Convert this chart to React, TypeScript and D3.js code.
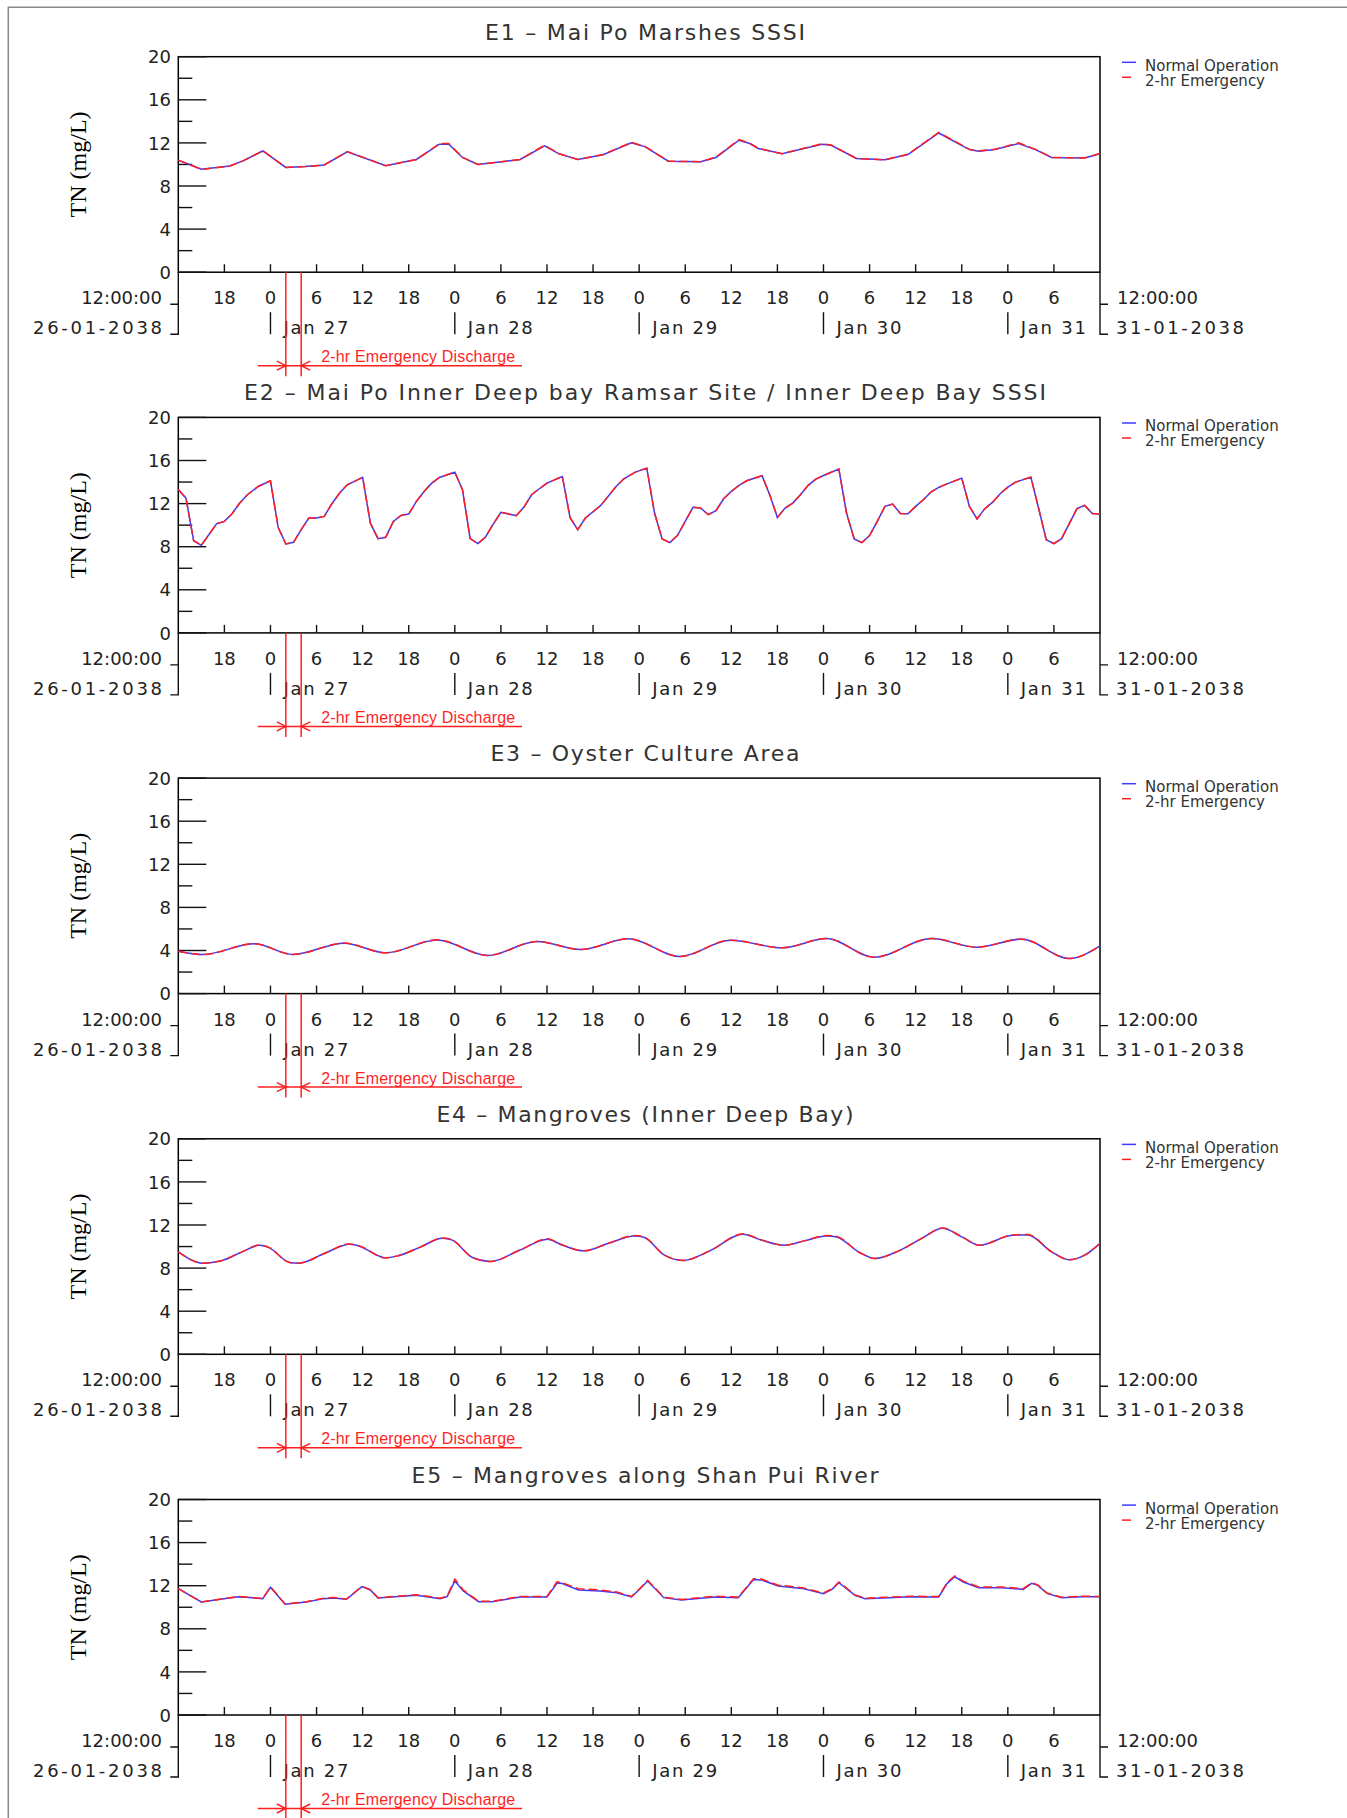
import React from 'react';
import * as d3 from 'd3';

// time axis: hours after 12:00:00 26-01-2038
const SPAN_HOURS = 120;
const EMERGENCY_START = 14; // Jan 27 02:00
const EMERGENCY_END = 16; // Jan 27 04:00

const TITLES = [
  'E1 – Mai Po Marshes SSSI',
  'E2 – Mai Po Inner Deep bay Ramsar Site / Inner Deep Bay SSSI',
  'E3 – Oyster Culture Area',
  'E4 – Mangroves (Inner Deep Bay)',
  'E5 – Mangroves along Shan Pui River',
];
const TITLE_WIDTHS = [320, 802, 309, 417, 467];

const Y_MAJOR = [0, 4, 8, 12, 16, 20];
const Y_MINOR = [2, 6, 10, 14, 18];
const X_TICK_HOURS = [6, 12, 18, 24, 30, 36, 42, 48, 54, 60, 66, 72, 78, 84, 90, 96, 102, 108, 114];
const X_TICK_LABELS = ['18', '0', '6', '12', '18', '0', '6', '12', '18', '0', '6', '12', '18', '0', '6', '12', '18', '0', '6'];
const DAY_HOURS = [12, 36, 60, 84, 108];
const DAY_LABELS = ['Jan 27', 'Jan 28', 'Jan 29', 'Jan 30', 'Jan 31'];
const LEGEND = ['Normal Operation', '2-hr Emergency'];

const E1_HOURS = [0, 3, 6.7, 8.5, 11, 14, 16.5, 19, 22, 27, 31, 34, 35.2, 37, 39, 44.5, 47.7, 49.5, 52, 55.3, 59, 60.8, 63.8, 68, 70, 73, 74.4, 75.5, 78.6, 83.8, 85, 88.3, 92, 95, 99, 103, 104.2, 106.3, 109.4, 111.6, 113.7, 118, 120];
const E1_NORMAL = [10.4, 9.55, 9.85, 10.35, 11.25, 9.72, 9.8, 9.95, 11.17, 9.88, 10.46, 11.88, 11.88, 10.65, 10.0, 10.46, 11.72, 11.0, 10.46, 10.9, 12.0, 11.63, 10.3, 10.25, 10.65, 12.25, 11.94, 11.48, 11.0, 11.88, 11.78, 10.55, 10.43, 10.92, 12.92, 11.38, 11.23, 11.38, 11.94, 11.38, 10.65, 10.6, 11.0];
const E1_EMERGENCY = [10.4, 9.55, 9.85, 10.35, 11.27, 9.72, 9.8, 9.95, 11.2, 9.88, 10.46, 11.93, 11.95, 10.65, 10.0, 10.46, 11.78, 11.02, 10.46, 10.92, 12.05, 11.65, 10.3, 10.25, 10.68, 12.3, 11.97, 11.5, 11.0, 11.92, 11.8, 10.55, 10.43, 10.95, 12.97, 11.4, 11.25, 11.4, 12.0, 11.4, 10.65, 10.6, 11.02];

const E2_HOURS = [0, 1, 2, 3, 5, 6, 7, 8, 9, 10.4, 12, 13, 14, 15, 16, 17, 18, 19, 20, 21, 22, 24, 25, 26, 27, 28, 29, 30, 31, 32, 33, 34, 36, 37, 38, 39, 40, 41, 42, 44, 45, 46, 47, 48, 50, 51, 52, 53, 55, 57, 58, 59.5, 61, 62, 63, 64, 65, 66, 67, 68, 69, 70, 71, 72, 73, 74, 76, 77, 78, 79, 80, 81, 82, 83, 84, 86, 87, 88, 89, 90, 91, 92, 93, 94, 95, 96, 97, 98, 99, 100, 102, 103, 104, 105, 106, 107, 108, 109, 111, 112, 113, 114, 115, 116, 117, 118, 119, 120];
const E2_NORMAL = [13.3, 12.5, 8.56, 8.13, 10.14, 10.35, 11.06, 12.05, 12.82, 13.59, 14.12, 9.8, 8.25, 8.41, 9.58, 10.66, 10.66, 10.81, 11.99, 12.98, 13.75, 14.43, 10.2, 8.75, 8.87, 10.35, 10.91, 11.03, 12.2, 13.13, 13.9, 14.43, 14.92, 13.28, 8.75, 8.28, 8.9, 10.1, 11.19, 10.88, 11.68, 12.82, 13.38, 13.9, 14.52, 10.72, 9.58, 10.66, 11.83, 13.59, 14.3, 14.92, 15.29, 11.12, 8.72, 8.38, 9.06, 10.35, 11.65, 11.59, 10.97, 11.34, 12.45, 13.13, 13.69, 14.12, 14.58, 12.82, 10.72, 11.59, 12.05, 12.82, 13.69, 14.27, 14.61, 15.2, 11.12, 8.72, 8.38, 9.03, 10.35, 11.74, 11.96, 11.09, 11.06, 11.74, 12.36, 13.07, 13.5, 13.81, 14.36, 11.74, 10.57, 11.53, 12.11, 12.91, 13.53, 13.99, 14.46, 11.59, 8.65, 8.28, 8.75, 10.14, 11.53, 11.83, 11.09, 11.03];
const E2_EMERGENCY = [13.3, 12.5, 8.56, 8.13, 10.14, 10.35, 11.06, 12.05, 12.82, 13.59, 14.12, 9.8, 8.25, 8.41, 9.58, 10.66, 10.66, 10.81, 11.99, 12.98, 13.75, 14.43, 10.2, 8.75, 8.87, 10.35, 10.91, 11.03, 12.2, 13.13, 13.9, 14.43, 14.92, 13.28, 8.75, 8.28, 8.9, 10.1, 11.19, 10.88, 11.68, 12.82, 13.38, 13.9, 14.52, 10.72, 9.58, 10.66, 11.83, 13.59, 14.3, 14.92, 15.29, 11.12, 8.72, 8.38, 9.06, 10.35, 11.65, 11.59, 10.97, 11.34, 12.45, 13.13, 13.69, 14.12, 14.58, 12.82, 10.72, 11.59, 12.05, 12.82, 13.69, 14.27, 14.61, 15.2, 11.12, 8.72, 8.38, 9.03, 10.35, 11.74, 11.96, 11.09, 11.06, 11.74, 12.36, 13.07, 13.5, 13.81, 14.36, 11.74, 10.57, 11.53, 12.11, 12.91, 13.53, 13.99, 14.46, 11.59, 8.65, 8.28, 8.75, 10.14, 11.53, 11.83, 11.09, 11.03];

const E3_HOURS = [0, 3.2, 9.9, 14.9, 21.6, 27, 33.7, 40.3, 46.7, 52.4, 58.6, 65.3, 71.9, 78.6, 84.4, 90.6, 98.1, 103.9, 109.8, 116, 120];
const E3_NORMAL = [3.94, 3.63, 4.62, 3.63, 4.68, 3.78, 4.98, 3.54, 4.83, 4.09, 5.08, 3.45, 4.95, 4.25, 5.11, 3.38, 5.11, 4.31, 5.05, 3.26, 4.42];
const E3_EMERGENCY = [3.94, 3.63, 4.63, 3.63, 4.69, 3.78, 4.99, 3.54, 4.84, 4.1, 5.09, 3.45, 4.96, 4.26, 5.12, 3.38, 5.12, 4.31, 5.06, 3.26, 4.42];

const E4_HOURS = [0, 3.2, 5.6, 8.3, 10.6, 11.8, 14.5, 15.7, 19, 22.3, 23.5, 27, 28.6, 31.5, 34.4, 35.6, 38.3, 40.7, 44.4, 48.1, 49.7, 52.8, 56, 59.4, 60.6, 63.3, 65.7, 69.2, 73.5, 75.8, 78.9, 81.6, 84.4, 85.6, 88.7, 90.7, 93.8, 96.9, 99.5, 102, 104.3, 108.6, 110.6, 113.7, 116, 118, 120];
const E4_NORMAL = [9.51, 8.46, 8.68, 9.51, 10.12, 9.9, 8.52, 8.46, 9.35, 10.22, 10.06, 8.95, 9.14, 9.95, 10.77, 10.62, 8.98, 8.62, 9.65, 10.68, 10.22, 9.6, 10.3, 10.98, 10.86, 9.2, 8.71, 9.6, 11.14, 10.62, 10.12, 10.55, 10.98, 10.92, 9.45, 8.89, 9.6, 10.8, 11.69, 10.9, 10.12, 11.05, 11.08, 9.51, 8.77, 9.2, 10.3];
const E4_EMERGENCY = [9.51, 8.46, 8.68, 9.51, 10.14, 9.92, 8.52, 8.46, 9.35, 10.24, 10.08, 8.95, 9.14, 9.95, 10.8, 10.64, 8.98, 8.62, 9.65, 10.72, 10.25, 9.6, 10.3, 11.02, 10.9, 9.2, 8.71, 9.6, 11.18, 10.65, 10.12, 10.55, 11.02, 10.96, 9.45, 8.89, 9.6, 10.8, 11.72, 10.92, 10.12, 11.08, 11.12, 9.51, 8.77, 9.2, 10.3];

const E5_HOURS = [0, 3, 7.8, 11, 12, 13.9, 16.7, 18.9, 20.2, 21.9, 23.9, 25, 26, 31, 34.1, 35, 36, 37.1, 39.1, 40.8, 44.5, 48, 49.3, 49.9, 52.1, 54.9, 57.1, 59, 60.1, 61.1, 63.2, 65.5, 69.9, 72.9, 74.9, 76, 78.1, 81.2, 84, 85.1, 86, 88.1, 89.4, 92.5, 95.5, 99, 100.1, 101.1, 102.2, 104.2, 107.2, 110, 111.1, 111.9, 113.1, 115, 117.6, 120];
const E5_NORMAL = [11.72, 10.49, 10.98, 10.8, 11.85, 10.28, 10.49, 10.8, 10.86, 10.74, 11.91, 11.6, 10.86, 11.11, 10.8, 10.98, 12.43, 11.51, 10.52, 10.52, 10.95, 10.95, 12.22, 12.22, 11.6, 11.51, 11.35, 10.95, 11.7, 12.43, 10.89, 10.68, 10.95, 10.89, 12.58, 12.52, 11.97, 11.75, 11.26, 11.66, 12.28, 11.11, 10.8, 10.89, 10.98, 10.95, 12.22, 12.83, 12.34, 11.82, 11.82, 11.66, 12.22, 12.03, 11.29, 10.89, 10.98, 10.98];
const E5_EMERGENCY = [11.72, 10.49, 11.0, 10.82, 11.9, 10.3, 10.52, 10.84, 10.9, 10.76, 11.95, 11.64, 10.88, 11.15, 10.84, 11.02, 12.6, 11.6, 10.55, 10.55, 11.0, 11.0, 12.37, 12.3, 11.72, 11.6, 11.42, 11.0, 11.75, 12.5, 10.94, 10.72, 11.02, 10.94, 12.65, 12.6, 12.05, 11.82, 11.32, 11.7, 12.35, 11.15, 10.84, 10.94, 11.02, 11.0, 12.3, 12.9, 12.42, 11.88, 11.88, 11.72, 12.28, 12.08, 11.32, 10.92, 11.02, 11.0];

const PANELS = [
  { hours: E1_HOURS, normal: E1_NORMAL, emergency: E1_EMERGENCY, curve: d3.curveLinear },
  { hours: E2_HOURS, normal: E2_NORMAL, emergency: E2_EMERGENCY, curve: d3.curveLinear },
  { hours: E3_HOURS, normal: E3_NORMAL, emergency: E3_EMERGENCY, curve: d3.curveMonotoneX },
  { hours: E4_HOURS, normal: E4_NORMAL, emergency: E4_EMERGENCY, curve: d3.curveMonotoneX },
  { hours: E5_HOURS, normal: E5_NORMAL, emergency: E5_EMERGENCY, curve: d3.curveLinear },
];

const W = 1347;
const H = 1818;
const PLOT_LEFT = 178.3;
const PLOT_RIGHT = 1100;
const TOP0 = 56.7;
const STEP = 360.7;
const PLOT_H = 215.5;

const SANS = '"DejaVu Sans", sans-serif';
const BLUE = '#3a3aff';
const RED = '#ff1f1f';

const x = d3.scaleLinear().domain([0, SPAN_HOURS]).range([PLOT_LEFT, PLOT_RIGHT]);

const Panel: React.FC<{ index: number }> = ({ index }) => {
  const p = PANELS[index];
  const top = TOP0 + STEP * index;
  const bottom = top + PLOT_H;
  const y = d3.scaleLinear().domain([0, 20]).range([bottom, top]);

  const line = d3.line<number>()
    .curve(p.curve)
    .x((_, i) => x(p.hours[i]))
    .y(d => y(d));

  const ex0 = x(EMERGENCY_START);
  const ex1 = x(EMERGENCY_END);
  const arrowY = bottom + 93.5;

  return (
    <g>
      {/* title */}
      <text x={645} y={top - 17} textAnchor="middle" fontFamily={SANS} fontSize={22}
        fill="#333" textLength={TITLE_WIDTHS[index]} lengthAdjust="spacing">
        {TITLES[index]}
      </text>

      {/* y axis label */}
      <text transform={`translate(86,${(top + bottom) / 2}) rotate(-90)`} textAnchor="middle"
        fontFamily='"Liberation Serif", serif' fontSize={24} fill="#000">TN (mg/L)</text>

      {/* plot frame */}
      <rect x={PLOT_LEFT} y={top} width={PLOT_RIGHT - PLOT_LEFT} height={PLOT_H}
        fill="none" stroke="#000" strokeWidth={1.5} />

      {/* y ticks */}
      {Y_MAJOR.map(v => (
        <g key={`ym${v}`}>
          <line x1={PLOT_LEFT} x2={PLOT_LEFT + 28} y1={y(v)} y2={y(v)} stroke="#111" strokeWidth={1.4} />
          <text x={171} y={y(v) + 6.6} textAnchor="end" fontFamily={SANS} fontSize={18} fill="#222">{v}</text>
        </g>
      ))}
      {Y_MINOR.map(v => (
        <line key={`yn${v}`} x1={PLOT_LEFT} x2={PLOT_LEFT + 14} y1={y(v)} y2={y(v)} stroke="#111" strokeWidth={1.4} />
      ))}

      {/* x ticks */}
      {X_TICK_HOURS.map((h, i) => (
        <g key={`xt${h}`}>
          <line x1={x(h)} x2={x(h)} y1={bottom} y2={bottom - 8} stroke="#111" strokeWidth={1.4} />
          <text x={x(h)} y={bottom + 32} textAnchor="middle" fontFamily={SANS} fontSize={18} fill="#222">
            {X_TICK_LABELS[i]}
          </text>
        </g>
      ))}

      {/* day labels */}
      {DAY_HOURS.map((h, i) => (
        <g key={`d${h}`}>
          <line x1={x(h)} x2={x(h)} y1={bottom + 40} y2={bottom + 62} stroke="#111" strokeWidth={1.4} />
          <text x={x(h) + 13} y={bottom + 62} fontFamily={SANS} fontSize={18} fill="#222"
            textLength={65} lengthAdjust="spacing">{DAY_LABELS[i]}</text>
        </g>
      ))}

      {/* start / end brackets */}
      <path d={`M${PLOT_LEFT - 8},${bottom + 32}H${PLOT_LEFT}M${PLOT_LEFT},${bottom}V${bottom + 62}H${PLOT_LEFT - 8}`}
        fill="none" stroke="#111" strokeWidth={1.4} />
      <path d={`M${PLOT_RIGHT + 8},${bottom + 32}H${PLOT_RIGHT}M${PLOT_RIGHT},${bottom}V${bottom + 62}H${PLOT_RIGHT + 8}`}
        fill="none" stroke="#111" strokeWidth={1.4} />
      <text x={162} y={bottom + 32} textAnchor="end" fontFamily={SANS} fontSize={18} fill="#222">12:00:00</text>
      <text x={162} y={bottom + 62} textAnchor="end" fontFamily={SANS} fontSize={18} fill="#222"
        textLength={129} lengthAdjust="spacing">26-01-2038</text>
      <text x={1117} y={bottom + 32} fontFamily={SANS} fontSize={18} fill="#222">12:00:00</text>
      <text x={1116} y={bottom + 62} fontFamily={SANS} fontSize={18} fill="#222"
        textLength={128} lengthAdjust="spacing">31-01-2038</text>

      {/* series */}
      <path d={line(p.normal) || ''} fill="none" stroke={BLUE} strokeWidth={1.5} />
      <path d={line(p.emergency) || ''} fill="none" stroke={RED} strokeWidth={1.5} strokeDasharray="9 4" />

      {/* legend */}
      <line x1={1122} x2={1136} y1={top + 5.6} y2={top + 5.6} stroke={BLUE} strokeWidth={1.5} />
      <text x={1145} y={top + 14} fontFamily={SANS} fontSize={15} fill="#333">{LEGEND[0]}</text>
      <line x1={1122} x2={1131} y1={top + 20.6} y2={top + 20.6} stroke={RED} strokeWidth={1.5} />
      <text x={1145} y={top + 29} fontFamily={SANS} fontSize={15} fill="#333">{LEGEND[1]}</text>

      {/* emergency discharge window */}
      <g stroke={RED} strokeWidth={1.5} fill="none">
        <line x1={ex0} x2={ex0} y1={bottom} y2={bottom + 104} />
        <line x1={ex1} x2={ex1} y1={bottom} y2={bottom + 104} />
        <line x1={ex0 - 28} x2={522} y1={arrowY} y2={arrowY} />
        <path d={`M${ex0 - 9},${arrowY - 4.5}L${ex0},${arrowY}L${ex0 - 9},${arrowY + 4.5}`} />
        <path d={`M${ex1 + 9},${arrowY - 4.5}L${ex1},${arrowY}L${ex1 + 9},${arrowY + 4.5}`} />
      </g>
      <text x={ex1 + 20} y={bottom + 90} fontFamily='"Liberation Sans", Arial, sans-serif' fontSize={16}
        fill={RED} textLength={194} lengthAdjust="spacing">2-hr Emergency Discharge</text>
    </g>
  );
};

export default function App() {
  return (
    <svg width={W} height={H} viewBox={`0 0 ${W} ${H}`}
      style={{ position: 'absolute', left: 0, top: 0, background: '#fff', display: 'block' }}>
      <rect x={0} y={0} width={W} height={H} fill="#fff" />
      <path d={`M8.3,${H}V7.3H${W}`} fill="none" stroke="#888" strokeWidth={1.5} />
      {PANELS.map((_, i) => <Panel key={i} index={i} />)}
    </svg>
  );
}
